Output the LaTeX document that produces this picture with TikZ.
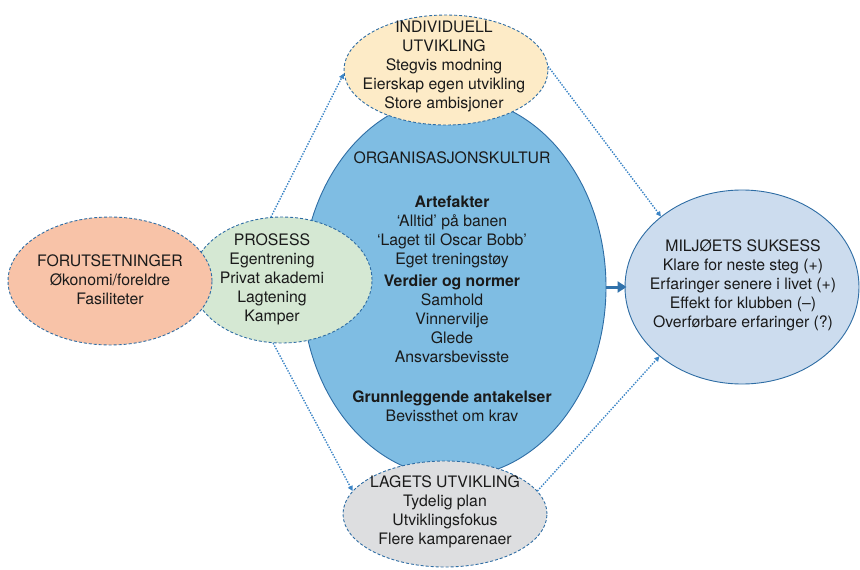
\documentclass[tikz,border=0pt]{standalone}
\usepackage{fontspec}
\setmainfont{TeX Gyre Heros}
\usetikzlibrary{shapes.geometric,arrows.meta}
\definecolor{bordc}{HTML}{2E6DA4}
\definecolor{dotc}{HTML}{3C85C6}
\definecolor{orgc}{HTML}{7FBDE3}
\definecolor{yelc}{HTML}{FDEBC7}
\definecolor{grec}{HTML}{DDDEE0}
\definecolor{grnc}{HTML}{D5E8D3}
\definecolor{orac}{HTML}{F8C3A8}
\definecolor{milc}{HTML}{CCDCEE}
\definecolor{txtc}{HTML}{1A1A1A}
\begin{document}
\begin{tikzpicture}[x=1pt,y=-1pt,
  ell/.style={ellipse, inner sep=0pt, draw=bordc, line width=0.9pt},
  dsh/.style={dash pattern=on 3pt off 2pt},
  txt/.style={align=center, inner sep=0pt, text=txtc, font=\fontsize{15.8}{19}\selectfont},
  dotarrow/.style={draw=dotc, line width=1.4pt, dash pattern=on 1.4pt off 1.4pt, -{Triangle[length=5pt,width=5pt]}},
  thickarrow/.style={draw=bordc!80!dotc, line width=3pt, -{Triangle[length=9pt,width=11pt]}, shorten >=-2pt}
]
\useasboundingbox (0,0) rectangle (860,570);

\node[ell, fill=orgc, minimum width=304, minimum height=380] (org) at (454,287) {};
\node[ell, dsh, fill=yelc, minimum width=204, minimum height=110] (indiv) at (446,70) {};
\node[ell, dsh, fill=grec, minimum width=204, minimum height=106] (lag) at (445,514) {};
\node[ell, dsh, fill=grnc, minimum width=180, minimum height=126] (pros) at (282,280) {};
\node[ell, dsh, fill=orac, minimum width=204, minimum height=128] (forut) at (110,281) {};
\node[ell, fill=milc, minimum width=234, minimum height=194] (milj) at (742,287) {};

\node[txt] (torg) at (452,287) {ORGANISASJONSKULTUR\\[25pt]
\textbf{Artefakter}\\
‘Alltid’ på banen\\
‘Laget til Oscar Bobb’\\
Eget treningstøy\\[3pt]
\textbf{Verdier og normer}\\
Samhold\\
Vinnervilje\\
Glede\\
Ansvarsbevisste\\[21pt]
\textbf{Grunnleggende antakelser}\\
Bevissthet om krav};

\node[txt] (tindiv) at (444,66) {INDIVIDUELL\\UTVIKLING\\Stegvis modning\\Eierskap egen utvikling\\Store ambisjoner};
\node[txt] (tlag) at (445,512) {LAGETS UTVIKLING\\Tydelig plan\\Utviklingsfokus\\Flere kamparenaer};
\node[txt] (tpros) at (272,279) {PROSESS\\Egentrening\\Privat akademi\\Lagtening\\Kamper};
\node[txt] (tforut) at (110,280) {FORUTSETNINGER\\Økonomi/foreldre\\Fasiliteter};
\node[txt] (tmilj) at (743,285) {MILJØETS SUKSESS\\Klare for neste steg (+)\\Erfaringer senere i livet (+)\\Effekt for klubben (–)\\Overførbare erfaringer (?)};

\draw[dotarrow] (pros.100) -- (indiv.182);
\draw[dotarrow] (pros.262) -- (lag.166);
\draw[dotarrow] (indiv.2) -- (milj.139);
\draw[dotarrow] (lag.14) -- (milj.220);
\draw[thickarrow] (org.east) -- (milj.west);
\end{tikzpicture}
\end{document}
